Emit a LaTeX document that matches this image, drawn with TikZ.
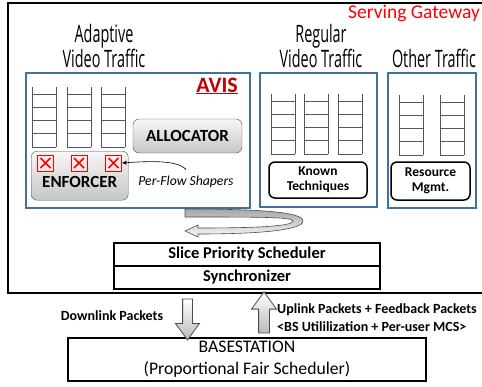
\documentclass[tikz,border=0pt]{standalone}
\usepackage{fontspec}
\setmainfont{Carlito}
\newfontfamily\titlefont[FakeStretch=0.6]{Open Sans}
\usetikzlibrary{arrows.meta,positioning,calc,shapes.arrows}
\definecolor{SGRed}{HTML}{FF0000}
\definecolor{AVRed}{HTML}{C00000}
\definecolor{SLBlue}{HTML}{41719C}
\definecolor{QGray}{HTML}{555555}

\begin{document}
\begin{tikzpicture}[
    x=1pt,y=-1pt,
    frame/.style={draw=black, line width=2pt},
    slice/.style={draw=SLBlue, line width=2pt, anchor=north west},
    title/.style={align=center, font=\titlefont\fontsize{24}{25}\selectfont},
    module/.style={draw=black!70, rounded corners=6pt, top color=gray!6, bottom color=gray!45, font=\bfseries\fontsize{17}{18}\selectfont},
    known/.style={draw=black, line width=1.5pt, rounded corners=6pt, fill=white, align=center, font=\bfseries\fontsize{13.5}{15}\selectfont},
    sched/.style={draw=black, line width=1.5pt, minimum width=266, minimum height=23, font=\bfseries\fontsize{16.5}{18}\selectfont},
    shaper/.style={draw=red, line width=1pt, fill=red!8, minimum size=16, inner sep=0pt,
      path picture={\draw[red, line width=1.5pt]
        ([shift={(3,3)}]path picture bounding box.north west) -- ([shift={(-3,-3)}]path picture bounding box.south east)
        ([shift={(-3,3)}]path picture bounding box.north east) -- ([shift={(3,-3)}]path picture bounding box.south west);}},
    blockarrow/.style={single arrow, draw=black!70, line width=0.8pt, top color=white, bottom color=gray!55, inner xsep=0pt, single arrow tip angle=72},
    lbl/.style={font=\bfseries\fontsize{14}{17}\selectfont, inner sep=0pt},
    queue/.pic={
      \draw[QGray, line width=1pt] (0,0) -- (0,60) (24,0) -- (24,60);
      \foreach \r in {7,20,33,46,60}{\draw[QGray, line width=1pt] (0,\r) -- (24,\r);}
    }
  ]
    \useasboundingbox (0,0) rectangle (482,386);

    % serving gateway
    \draw[frame] (484,3) -| (8,293) -- (484,293);
    \node[anchor=base east, text=SGRed, font=\fontsize{19.5}{21}\selectfont, inner sep=0pt] (sgw) at (480,18) {Serving Gateway};

    % slices
    \node[title] (avistitle) at (104,46) {Adaptive\\Video Traffic};
    \node[title] (regtitle) at (321,46) {Regular\\Video Traffic};
    \node[title] (othtitle) at (434,58) {Other Traffic};

    \node[slice, minimum width=224, minimum height=135] (avis) at (25,72) {};
    \node[slice, minimum width=117, minimum height=134] (regular) at (259,72) {};
    \node[slice, minimum width=88, minimum height=135] (other) at (387,72) {};

    \node[anchor=base east, text=AVRed, font=\bfseries\fontsize{22}{24}\selectfont, inner sep=0pt] (avislbl) at (238,92) {\underline{AVIS}};

    % queues
    \foreach \x in {32,67,101}{\pic at (\x,87) {queue};}
    \foreach \x in {271,304,338}{\pic at (\x,94) {queue};}
    \foreach \x in {399,440}{\pic at (\x,95) {queue};}

    % avis modules
    \node[module, minimum width=109, minimum height=34] (alloc) at (187.5,136) {ALLOCATOR};
    \node[module, minimum width=97, minimum height=49, text depth=0pt, text height=23pt, anchor=north west] (enf) at (31,151) {ENFORCER};
    \node[shaper] (x1) at (45.5,163) {};
    \node[shaper] (x2) at (79,163) {};
    \node[shaper] (x3) at (113.5,163) {};
    \node[font=\itshape\fontsize{13.7}{15}\selectfont] (shapers) at (186,182) {Per-Flow Shapers};
    \draw[-{Stealth[length=5pt,width=4pt]}, line width=0.6pt] ($(shapers.north)+(0,-3)$) .. controls (178,160) and (150,161) .. (x3.east);

    \node[known, minimum width=98, minimum height=36] (known) at (318,180) {Known\\Techniques};
    \node[known, minimum width=79, minimum height=38] (resmgmt) at (430.5,181) {Resource\\Mgmt.};

    % rotating arrow
    \draw[black!70, line width=0.6pt, top color=gray!70, bottom color=gray!5]
      (185,209) .. controls (260,209) and (303,212) .. (303,221)
      .. controls (303,230) and (260,234) .. (198,234) -- (198,237) -- (185,231) -- (198,225) -- (198,228)
      .. controls (260,228) and (293,226) .. (293,221) .. controls (293,217) and (260,217) .. (185,217) -- cycle;

    % schedulers
    \node[sched] (sps) at (247,254.5) {Slice Priority Scheduler};
    \node[sched] (sync) at (247,277.5) {Synchronizer};

    % basestation
    \node[draw=black, line width=1.5pt, minimum width=358, minimum height=43, align=center, font=\fontsize{17.7}{22}\selectfont] (bs) at (247,359.5) {BASESTATION\\(Proportional Fair Scheduler)};

    \coordinate (dl-top) at (187.5,295);
    \coordinate (dl-bot) at (bs.north -| dl-top);
    \coordinate (ul-top) at (264,295);
    \coordinate (ul-bot) at (bs.north -| ul-top);
    \node[blockarrow, rotate=-90, minimum height=41, minimum width=16, inner ysep=4.5pt] (down) at ($(dl-top)!0.5!(dl-bot)$) {};
    \node[blockarrow, rotate=90, minimum height=41, minimum width=19, inner ysep=5pt] (up) at ($(ul-top)!0.5!(ul-bot)$) {};

    \node[lbl] (dltxt) at (112,316) {Downlink Packets};
    \node[lbl, anchor=west] (ultxt) at (277,310) {Uplink Packets + Feedback Packets};
    \node[lbl, anchor=west] (fbtxt) at (277,327) {<BS Utililization + Per-user MCS>};
  \end{tikzpicture}
\end{document}
